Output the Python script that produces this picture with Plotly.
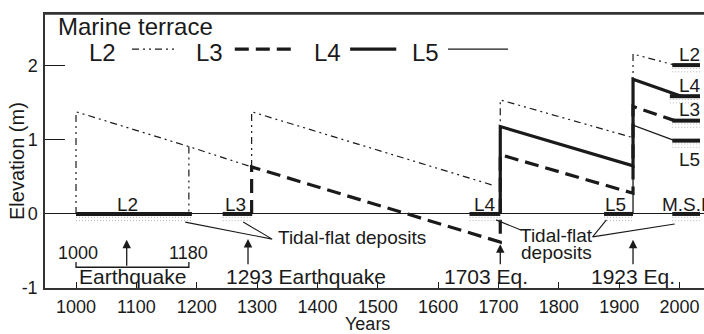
import plotly.graph_objects as go

FONT = "Liberation Sans, Arial, sans-serif"
INK = "#1a1a1a"

# ---------------- data (years, elevation in m) ----------------
l2_years = [1000, 1000, 1187, 1291, None, 1187, 1187, None,
            1291, 1291, 1694, None, 1703, 1703, 1923, 1923, 1992]
l2_elev = [0, 1.38, 0.91, 0.635, None, 0.91, 0, None,
           0.635, 1.38, 0.38, None, 0.40, 1.54, 1.03, 2.16, 2.01]

l3_years = [1291, 1291, 1703, 1703, 1923, 1923, 1992]
l3_elev = [0, 0.635, -0.38, 0.80, 0.28, 1.45, 1.26]

l4_years = [1703, 1703, 1923, 1923, 2003]
l4_elev = [0, 1.18, 0.65, 1.82, 1.59]

l5_years = [1923, 1923, 1992]
l5_elev = [0, 1.20, 0.99]

# tidal-flat deposit bars: (start year, end year, elevation)
dep_start = [1000, 1243, 1652, 1875, 1988, 1988, 1984, 1988, 1988]
dep_end = [1192, 1292, 1703, 1923, 2034, 2034, 2034, 2034, 2034]
dep_elev = [0, 0, 0, 0, 0, 2.01, 1.59, 1.26, 0.99]

# bar labels
bar_labels = ["L2", "L3", "L4", "L5", "L2", "L4", "L3", "L5"]
bar_label_x = [1086, 1265, 1677, 1894, 2017, 2017, 2017, 2017]
bar_label_y = [0.13, 0.13, 0.13, 0.13, 2.15, 1.74, 1.41, 0.73]

# earthquakes (arrow year, head elev, tail elev)
eq_years = [1084, 1285, 1703, 1923]
eq_head = [-0.35, -0.34, -0.41, -0.35]
eq_tail = [-0.72, -0.70, -0.70, -0.70]
eq_text = ["Earthquake", "1293 Earthquake", "1703 Eq.", "1923 Eq."]
eq_text_x = [1094, 1381, 1680, 1923]
eq_text_y = -0.85

x_ticks = [1000, 1100, 1200, 1300, 1400, 1500, 1600, 1700, 1800, 1900, 2000]
y_ticks = [-1, 0, 1, 2]

# ---------------- figure ----------------
fig = go.Figure()

L2_DASH = "7px,4px,2px,4px,2px,4px"
L3_DASH = "14px,7px"

fig.add_trace(go.Scatter(x=l2_years, y=l2_elev, mode="lines",
                         line=dict(color=INK, width=1.2, dash=L2_DASH)))
fig.add_trace(go.Scatter(x=l5_years, y=l5_elev, mode="lines",
                         line=dict(color=INK, width=1.3)))
fig.add_trace(go.Scatter(x=l4_years, y=l4_elev, mode="lines",
                         line=dict(color=INK, width=3.2)))
fig.add_trace(go.Scatter(x=l3_years, y=l3_elev, mode="lines",
                         line=dict(color=INK, width=3.2, dash=L3_DASH)))

# deposits: dotted band + thick bar
for s, e, z in zip(dep_start, dep_end, dep_elev):
    for off in (0.045, 0.09):
        fig.add_trace(go.Scatter(x=[s, e], y=[z - off, z - off], mode="lines",
                                 line=dict(color="#b4b4b4", width=1.0, dash="1px,2px")))
    fig.add_trace(go.Scatter(x=[s, e], y=[z, z], mode="lines",
                             line=dict(color=INK, width=4)))

# bracket 1000-1180
br_x = [1000, 1000, 1187, 1187]
br_y = [-0.65, -0.72, -0.72, -0.65]
fig.add_trace(go.Scatter(x=br_x, y=br_y, mode="lines", line=dict(color=INK, width=1.3)))

# leader lines for tidal-flat deposits
lead_x = [1181, 1325, 1277, None, 1696, 1738, None, 1879, 1856, 1992]
lead_y = [-0.11, -0.34, -0.11, None, -0.08, -0.22, None, -0.08, -0.31, -0.135]
fig.add_trace(go.Scatter(x=lead_x, y=lead_y, mode="lines", line=dict(color=INK, width=1.1)))

anns = []
for lx, ly, lt in zip(bar_label_x, bar_label_y, bar_labels):
    anns.append(dict(x=lx, y=ly, text=lt, showarrow=False, font=dict(size=19)))
anns.append(dict(x=1967, y=0.13, text="M.S.L", showarrow=False, xanchor="left",
                 font=dict(size=19)))

for xq, yh, yt in zip(eq_years, eq_head, eq_tail):
    anns.append(dict(x=xq, y=yh, ax=xq, ay=yt, axref="x", ayref="y", text="",
                     showarrow=True, arrowhead=2, arrowsize=1.3, arrowwidth=1.3,
                     arrowcolor=INK))
for tx, tt in zip(eq_text_x, eq_text):
    anns.append(dict(x=tx, y=eq_text_y, text=tt, showarrow=False, font=dict(size=21)))

anns.append(dict(x=1003, y=-0.53, text="1000", showarrow=False, font=dict(size=18)))
anns.append(dict(x=1187, y=-0.53, text="1180", showarrow=False, font=dict(size=18)))
anns.append(dict(x=1457, y=-0.32, text="Tidal-flat deposits", showarrow=False, font=dict(size=19)))
anns.append(dict(x=1797, y=-0.295, text="Tidal-flat", showarrow=False, font=dict(size=19)))
anns.append(dict(x=1797, y=-0.515, text="deposits", showarrow=False, font=dict(size=19)))

# legend (manual)
anns.append(dict(xref="paper", yref="paper", x=0.0167, y=0.956, xanchor="left",
                 text="Marine terrace", showarrow=False, font=dict(size=24)))
leg_names = ["L2", "L3", "L4", "L5"]
leg_text_x = [0.088, 0.249, 0.429, 0.578]
leg_line_x0 = [0.132, 0.288, 0.463, 0.6115]
leg_line_x1 = [0.197, 0.379, 0.533, 0.7026]
leg_styles = [dict(width=1.2, dash=L2_DASH), dict(width=3.2, dash=L3_DASH),
              dict(width=3.2), dict(width=1.3)]
shapes = [dict(type="line", xref="paper", yref="paper", x0=0, x1=1, y0=1, y1=1,
               line=dict(color="#333", width=1.5))]
for n, tx, x0, x1, st in zip(leg_names, leg_text_x, leg_line_x0, leg_line_x1, leg_styles):
    anns.append(dict(xref="paper", yref="paper", x=tx, y=0.861, text=n,
                     showarrow=False, font=dict(size=24)))
    shapes.append(dict(type="line", xref="paper", yref="paper", x0=x0, x1=x1,
                       y0=0.872, y1=0.872, line=dict(color=INK, **st)))

anns.append(dict(xref="paper", yref="paper", x=-0.0425, y=0.4635, text="Elevation (m)",
                 textangle=-90, showarrow=False, font=dict(size=20)))
anns.append(dict(xref="paper", yref="paper", x=0.49, y=-0.13,
                 text="Years", showarrow=False, font=dict(size=18)))

for a in anns:
    a.setdefault("font", {})
    a["font"].setdefault("color", INK)
    a["font"].setdefault("family", FONT)
    a.setdefault("xanchor", "center")
    a.setdefault("yanchor", "middle")

fig.update_layout(
    width=704, height=334,
    margin=dict(l=45, r=0, t=14, b=46, pad=0),
    paper_bgcolor="white", plot_bgcolor="white",
    showlegend=False,
    font=dict(family=FONT, color=INK, size=18),
    annotations=anns, shapes=shapes,
    xaxis=dict(range=[948.6, 2040.6], tickvals=x_ticks, ticks="inside", ticklen=6,
               tickwidth=1.2, tickcolor=INK, showgrid=False, zeroline=False,
               showline=True, linecolor="#333", linewidth=1.5, mirror=True,
               tickfont=dict(size=18), ticklabelstandoff=2),
    yaxis=dict(range=[-1, 2.70], tickvals=y_ticks, ticktext=["-1", "0", "1", "2"],
               ticks="inside", ticklen=20, tickwidth=1.2, tickcolor=INK, showgrid=False,
               zeroline=True, zerolinecolor=INK, zerolinewidth=1.2,
               showline=True, linecolor="#333", linewidth=1.5, mirror=False,
               tickfont=dict(size=18), ticklabelstandoff=2),
)

# remove the page's default 8px body margin so the figure fills the 704x334 window
fig.write_html("out.html", config={"displayModeBar": False},
               post_script="document.body.style.margin='0';document.body.style.overflow='hidden';")
